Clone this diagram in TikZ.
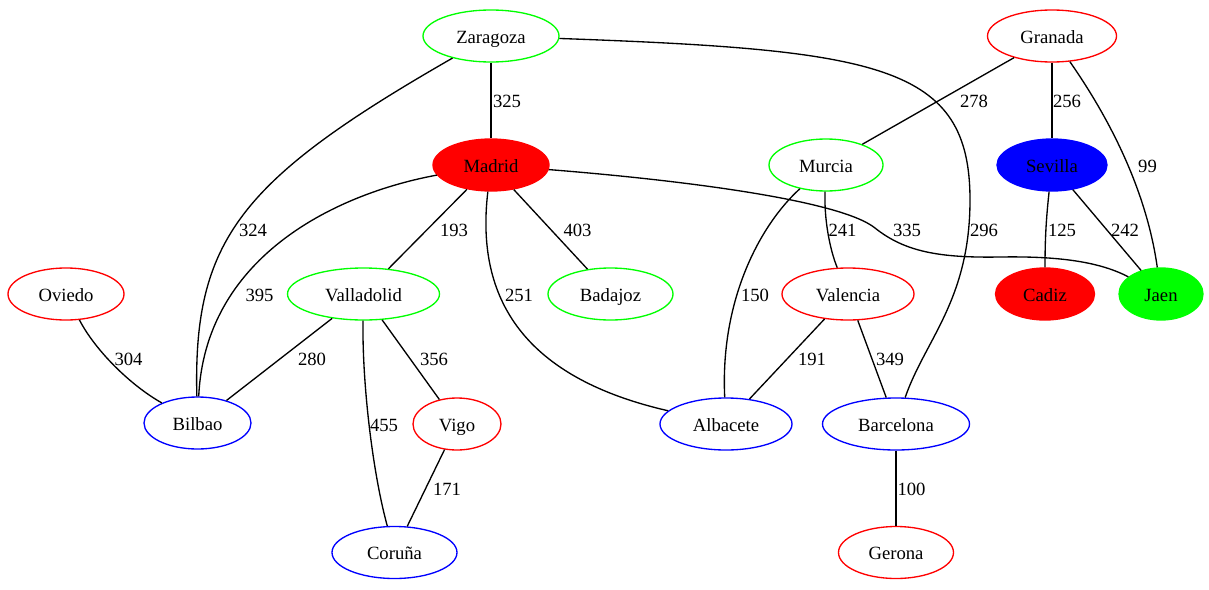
\documentclass[tikz,border=0pt]{standalone}
\usepackage{fontspec}
\setmainfont{Liberation Serif}
\usetikzlibrary{shapes.geometric}
\begin{document}
\begin{tikzpicture}[x=0.75pt,y=-0.75pt,
  city/.style={ellipse,draw,line width=1pt,minimum height=39pt,inner sep=0pt,text height=13.5pt,text depth=3pt,font=\fontsize{14}{16}\selectfont},
  lbl/.style={inner sep=0pt,text height=13.5pt,text depth=3pt,font=\fontsize{14}{16}\selectfont},
  road/.style={line width=1pt,black}]
\fill[white] (0,0) rectangle (1209,589);
\useasboundingbox (0,0) rectangle (1209,589);
% nodes
\node[city,draw=green,minimum width=102pt] (zar) at (491,36) {Zaragoza};
\node[city,draw=red,minimum width=96.75pt] (gra) at (1052,36) {Granada};
\node[city,draw=red,fill=red,minimum width=87pt] (mad) at (491,165) {Madrid};
\node[city,draw=green,minimum width=85.5pt] (mur) at (826,165) {Murcia};
\node[city,draw=blue,fill=blue,minimum width=82.5pt] (sev) at (1052,165) {Sevilla};
\node[city,draw=red,minimum width=87pt] (ovi) at (66,294) {Oviedo};
\node[city,draw=green,minimum width=114pt] (val) at (363.5,294) {Valladolid};
\node[city,draw=green,minimum width=93.75pt] (bad) at (610.5,294) {Badajoz};
\node[city,draw=red,minimum width=99pt] (vlc) at (848,294) {Valencia};
\node[city,draw=red,fill=red,minimum width=74.25pt] (cad) at (1045,294) {Cadiz};
\node[city,draw=green,fill=green,minimum width=63pt] (jae) at (1161,294) {Jaen};
\node[city,draw=blue,minimum width=80.25pt] (bil) at (197.5,423) {Bilbao};
\node[city,draw=red,minimum width=66pt] (vig) at (457,424) {Vigo};
\node[city,draw=blue,minimum width=99pt] (alb) at (726,424) {Albacete};
\node[city,draw=blue,minimum width=110.25pt] (bar) at (896,424) {Barcelona};
\node[city,draw=blue,minimum width=93.75pt] (cor) at (394.5,552.5) {Coruña};
\node[city,draw=red,minimum width=86.25pt] (ger) at (896,552.5) {Gerona};
% edges
\draw[road] (zar) -- (mad);
\draw[road] (zar) .. controls (240,180) and (193,240) .. (bil);
\draw[road] (zar) .. controls (880,50) and (970,65) .. (970,200)
                  .. controls (970,300) and (925,340) .. (bar);
\draw[road] (gra) -- (mur);
\draw[road] (gra) -- (sev);
\draw[road] (gra) .. controls (1100,105) and (1145,180) .. (jae);
\draw[road] (mad) .. controls (330,195) and (205,260) .. (bil);
\draw[road] (mad) -- (val);
\draw[road] (mad) -- (bad);
\draw[road] (mad) .. controls (475,300) and (525,378) .. (alb);
\draw[road] (mad) .. controls (680,180) and (840,200) .. (875,228)
                  .. controls (905,252) and (940,258) .. (1000,257)
                  .. controls (1060,256) and (1100,262) .. (jae);
\draw[road] (mur) .. controls (824,220) and (830,250) .. (vlc);
\draw[road] (mur) .. controls (760,225) and (720,300) .. (alb);
\draw[road] (sev) .. controls (1046,220) and (1045,240) .. (cad);
\draw[road] (sev) -- (jae);
\draw[road] (ovi) .. controls (95,350) and (130,385) .. (bil);
\draw[road] (val) -- (bil);
\draw[road] (val) .. controls (362,380) and (372,470) .. (cor);
\draw[road] (val) -- (vig);
\draw[road] (vig) -- (cor);
\draw[road] (vlc) -- (alb);
\draw[road] (vlc) -- (bar);
\draw[road] (bar) -- (ger);
% labels
\node[lbl] (l325) at (507,100) {325};
\node[lbl] (l278) at (974,100) {278};
\node[lbl] (l256) at (1067,100) {256};
\node[lbl] (l99) at (1147.5,165) {99};
\node[lbl] (l324) at (253,229) {324};
\node[lbl] (l193) at (454,229) {193};
\node[lbl] (l403) at (577.5,229) {403};
\node[lbl] (l241) at (842.5,229) {241};
\node[lbl] (l335) at (907,229) {335};
\node[lbl] (l296) at (984,229) {296};
\node[lbl] (l125) at (1062,229) {125};
\node[lbl] (l242) at (1125,229) {242};
\node[lbl] (l395) at (259.5,294) {395};
\node[lbl] (l251) at (519,294) {251};
\node[lbl] (l150) at (755,294) {150};
\node[lbl] (l304) at (128.5,358) {304};
\node[lbl] (l280) at (312,358) {280};
\node[lbl] (l356) at (434,358) {356};
\node[lbl] (l191) at (812,358) {191};
\node[lbl] (l349) at (890,358) {349};
\node[lbl] (l455) at (384,424) {455};
\node[lbl] (l171) at (447,488) {171};
\node[lbl] (l100) at (911.5,488) {100};
\end{tikzpicture}
\end{document}
